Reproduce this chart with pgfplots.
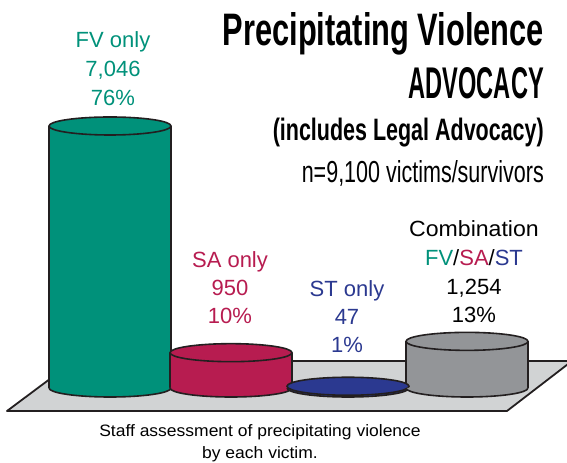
\documentclass[border=0pt]{standalone}
\usepackage{pgfplots}
\pgfplotsset{compat=1.18}
\usepackage{graphicx}
\usepackage{fontspec}
\setmainfont{Liberation Sans}
\definecolor{fvc}{HTML}{00917A}
\definecolor{sac}{HTML}{B71C50}
\definecolor{stc}{HTML}{2B3990}
\definecolor{coc}{HTML}{939598}
\definecolor{plat}{HTML}{D1D3D4}
\definecolor{outl}{HTML}{231F20}
% top of a cylinder: full ellipse
\pgfdeclareplotmark{cyltop}{%
  \pgfpathellipse{\pgfpointorigin}{\pgfqpoint{61bp}{0pt}}{\pgfqpoint{0pt}{9bp}}%
  \pgfusepathqfillstroke}
% bottom of a cylinder: lower half ellipse, only the arc stroked
\pgfdeclareplotmark{cylbot}{%
  \pgfpathmoveto{\pgfqpoint{-61bp}{0pt}}%
  \pgfpatharc{180}{360}{61bp and 9bp}%
  \pgfusepathqfill
  \pgfpathmoveto{\pgfqpoint{-61bp}{0pt}}%
  \pgfpatharc{180}{360}{61bp and 9bp}%
  \pgfusepathqstroke}
\pgfplotsset{
  cylcap/.style={only marks, mark=cyltop, mark options={fill=#1, draw=outl, line width=1.6bp}},
  cylfoot/.style={only marks, mark=cylbot, mark options={fill=#1, draw=outl, line width=1.6bp}},
  cylbody/.style={ybar, bar width=122bp, bar shift=0pt, fill=#1, draw=none},
  cylside/.style={ybar, bar width=1.7bp, bar shift=#1, fill=outl, draw=none},
}
\begin{document}
\begin{tikzpicture}
\path (0,0) rectangle (567bp,463bp);
\begin{scope}[x=1bp,y=-1bp,shift={(0,463bp)}]
  \begin{scope}
    \clip (0,0) rectangle (567,463);
    \filldraw[fill=plat, draw=outl, line width=1.8bp, line join=round]
      (7,411) -- (507,411) -- (572,361) -- (74,361) -- cycle;
  \end{scope}
\end{scope}
\begin{axis}[at={(0,0)}, anchor=south west, scale only axis,
  width=567bp, height=463bp, xmin=0, xmax=567, ymin=-2017, ymax=10434.5,
  hide axis, clip=false]
% FV only
\addplot[cylfoot=fvc] coordinates {(110,0)};
\addplot[cylbody=fvc] coordinates {(110,7046)};
\addplot[cylside=-61bp] coordinates {(110,7046)};
\addplot[cylside=61bp] coordinates {(110,7046)};
\addplot[cylcap=fvc] coordinates {(110,7046)};
% SA only
\addplot[cylfoot=sac] coordinates {(231,0)};
\addplot[cylbody=sac] coordinates {(231,950)};
\addplot[cylside=-61bp] coordinates {(231,950)};
\addplot[cylside=61bp] coordinates {(231,950)};
\addplot[cylcap=sac] coordinates {(231,950)};
% ST only
\addplot[cylfoot=stc] coordinates {(348,0)};
\addplot[cylbody=stc] coordinates {(348,47)};
\addplot[cylcap=stc] coordinates {(348,47)};
% Combination
\addplot[cylfoot=coc] coordinates {(467,0)};
\addplot[cylbody=coc] coordinates {(467,1254)};
\addplot[cylside=-61bp] coordinates {(467,1254)};
\addplot[cylside=61bp] coordinates {(467,1254)};
\addplot[cylcap=coc] coordinates {(467,1254)};
\end{axis}
\begin{scope}[x=1bp,y=-1bp,shift={(0,463bp)}]
  \tikzset{lab/.style={anchor=base, inner sep=0pt, font=\fontsize{22bp}{26bp}\selectfont}}
  \node[lab, text=fvc] at (113,48) {FV only};
  \node[lab, text=fvc] at (113,77) {7,046};
  \node[lab, text=fvc] at (113,106) {76\%};
  \node[lab, text=sac] at (230,268) {SA only};
  \node[lab, text=sac] at (230,296) {950};
  \node[lab, text=sac] at (230,324) {10\%};
  \node[lab, text=stc] at (347,297) {ST only};
  \node[lab, text=stc] at (347,325) {47};
  \node[lab, text=stc] at (347,353) {1\%};
  \node[lab] at (474,237) {\scalebox{1.05}[1]{Combination}};
  \node[lab] at (474,266) {\textcolor{fvc}{FV}/\textcolor{sac}{SA}/\textcolor{stc}{ST}};
  \node[lab] at (474,295) {1,254};
  \node[lab] at (474,323) {13\%};
  \node[anchor=base east, inner sep=0pt] at (544,46) {\resizebox{321bp}{33bp}{\bfseries Precipitating Violence}};
  \node[anchor=base east, inner sep=0pt] at (544,99) {\resizebox{135bp}{31bp}{\bfseries ADVOCACY}};
  \node[anchor=north east, inner sep=0pt] at (544,118) {\resizebox*{271bp}{29bp}{\bfseries (includes Legal Advocacy)}};
  \node[anchor=base east, inner sep=0pt] at (544,183) {\resizebox{242bp}{22bp}{n=9,100 victims/survivors}};
  \node[anchor=base, inner sep=0pt, font=\fontsize{16.5bp}{20bp}\selectfont] at (260,437) {\scalebox{1.06}[1]{Staff assessment of precipitating violence}};
  \node[anchor=base, inner sep=0pt, font=\fontsize{16.5bp}{20bp}\selectfont] at (260,459) {\scalebox{1.06}[1]{by each victim.}};
\end{scope}
\end{tikzpicture}
\end{document}
